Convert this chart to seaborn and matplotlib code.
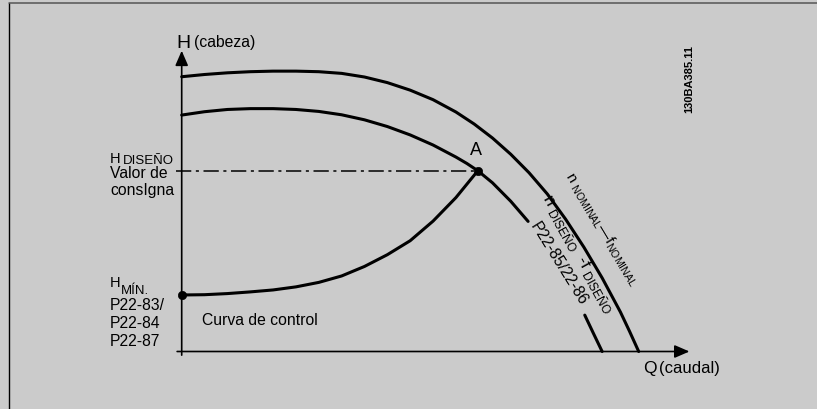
import numpy as np
import pandas as pd
import matplotlib
matplotlib.use('Agg')
import matplotlib.pyplot as plt
import matplotlib.transforms as mtransforms
from matplotlib.lines import Line2D
import seaborn as sns

# Curve readings, Q and H in % of the nominal curve (Q where H=0, H at the top)
q_nominal = [0, 5, 10, 15, 20, 25, 30, 35, 40, 45, 50, 55, 60, 64, 68,
             72, 76, 80, 84, 88, 92, 96, 98, 100]
h_nominal = [98.2, 99.0, 99.6, 100.0, 100.2, 100.2, 100.0, 99.4, 98.1, 96.1,
             93.4, 90.0, 85.6, 81.3, 76.3, 70.5, 63.9, 56.3, 47.3, 37.3, 26.3,
             14.1, 7.2, 0.0]

# design curve is broken where its label crosses it
q_design_top = [0, 5, 10, 15, 20, 25, 30, 35, 40, 45, 50, 55, 60, 62.4,
                64.8, 68, 72, 75.8]
h_design_top = [84.5, 85.7, 86.5, 86.8, 86.8, 86.5, 85.8, 84.6, 82.8, 80.4,
                77.4, 73.8, 69.5, 67.2, 64.6, 60.3, 53.7, 46.5]
q_design_end = [88.2, 90.0, 92.0]
h_design_end = [13.0, 6.8, 0.0]

q_control = [0, 5, 10, 15, 20, 25, 30, 35, 40, 45, 50, 55, 60, 64.8]
h_control = [20.2, 20.3, 20.7, 21.3, 22.0, 23.1, 24.7, 27.0, 30.4, 34.6,
             39.6, 46.6, 55.0, 64.6]

q_point_a, h_point_a = 64.8, 64.6
q_hmin, h_hmin = 0.0, 20.2

# layout (pixels)
W, H = 817, 409
ORIGIN_X, ORIGIN_Y = 181.7, 351.5
SX, SY = 4.57, 2.798
BG = '#cbcbcb'

sns.set_theme(style='white')
plt.rcParams['font.family'] = ['Liberation Sans', 'DejaVu Sans']
plt.rcParams['mathtext.fontset'] = 'custom'
plt.rcParams['mathtext.rm'] = 'Liberation Sans'

fig = plt.figure(figsize=(W / 100, H / 100), dpi=100, facecolor=BG)
ax = fig.add_axes([0, 0, 1, 1])
ax.axis('off')
ax.set_xlim(-ORIGIN_X / SX, (W - ORIGIN_X) / SX)
ax.set_ylim((ORIGIN_Y - H) / SY, ORIGIN_Y / SY)

# pixel transform, y measured from the top
px = mtransforms.Affine2D().scale(1 / W, -1 / H).translate(0, 1) + fig.transFigure

# frame lines
fig.add_artist(Line2D([9, 9], [2.5, H], transform=px, color='black', lw=1.0))
fig.add_artist(Line2D([9, W], [2.5, 2.5], transform=px, color='#555555', lw=1.1))

# axes with arrows
arrow = dict(arrowstyle='-|>,head_length=0.6,head_width=0.26', mutation_scale=15,
             lw=1.2, color='black', shrinkA=0, shrinkB=0)
ax.annotate('', xy=(0, 107.5), xytext=(0, -1.3), arrowprops=arrow)
ax.annotate('', xy=(111.1, 0), xytext=(-1.0, 0), arrowprops=arrow)

# curves
df_nom = pd.DataFrame({'Q': q_nominal, 'H': h_nominal})
df_des = pd.concat([
    pd.DataFrame({'Q': q_design_top, 'H': h_design_top, 'tramo': 0}),
    pd.DataFrame({'Q': q_design_end, 'H': h_design_end, 'tramo': 1}),
])
df_ctrl = pd.DataFrame({'Q': q_control, 'H': h_control})

line_kw = dict(color='black', lw=2.2, solid_joinstyle='round', sort=False,
               estimator=None, ax=ax)
sns.lineplot(data=df_nom, x='Q', y='H', **line_kw)
sns.lineplot(data=df_des, x='Q', y='H', units='tramo', **line_kw)
sns.lineplot(data=df_ctrl, x='Q', y='H', **line_kw)

# setpoint line
ax.plot([-1.25, q_point_a], [h_point_a, h_point_a], color='black', lw=1.1,
        linestyle=(0, (10, 3, 2, 3)))

sns.scatterplot(x=[q_point_a, q_hmin], y=[h_point_a, h_hmin], s=36,
                color='black', edgecolor='black', zorder=5, ax=ax, legend=False)

# texts
def label(x, y, s, size=11.3, **kw):
    ax.text(x, y, s, transform=px, fontsize=size, color='black',
            ha=kw.pop('ha', 'left'), va=kw.pop('va', 'baseline'), **kw)

label(176, 47.5, 'H', 14)
label(194, 47.5, '(cabeza)')
label(470, 155, 'A', 13)
label(110, 163, 'H', 10.5)
label(123, 164, 'DISEÑO', 9.5)
label(110, 177.5, 'Valor de')
label(110, 194.5, 'consIgna')
label(110, 287, 'H', 10.5)
label(121, 294.5, 'MÍN.', 9.5)
label(110, 310, 'P22-83/')
label(110, 328.5, 'P22-84')
label(110, 345.5, 'P22-87')
label(202, 325, 'Curva de control')
label(643, 373.5, 'Q', 12.5)
label(659, 373.5, '(caudal)', 12)
label(689, 79, '130BA385.11', 8, ha='center', va='center', rotation=90,
      fontweight='bold')

label(602, 229, 'n $_{\\mathrm{NOMINAL}}$\u2014f$_{\\mathrm{NOMINAL}}$', 10.8,
      ha='center', va='center', rotation=-59, rotation_mode='anchor')
label(579, 254, 'n $_{\\mathrm{DISEÑO}}$  -f $_{\\mathrm{DISEÑO}}$', 12.3,
      ha='center', va='center', rotation=-61, rotation_mode='anchor')
label(559, 264, 'P22-85/22-86', 11.3,
      ha='center', va='center', rotation=-58, rotation_mode='anchor')

fig.savefig('out.png', dpi=100, facecolor=BG)
